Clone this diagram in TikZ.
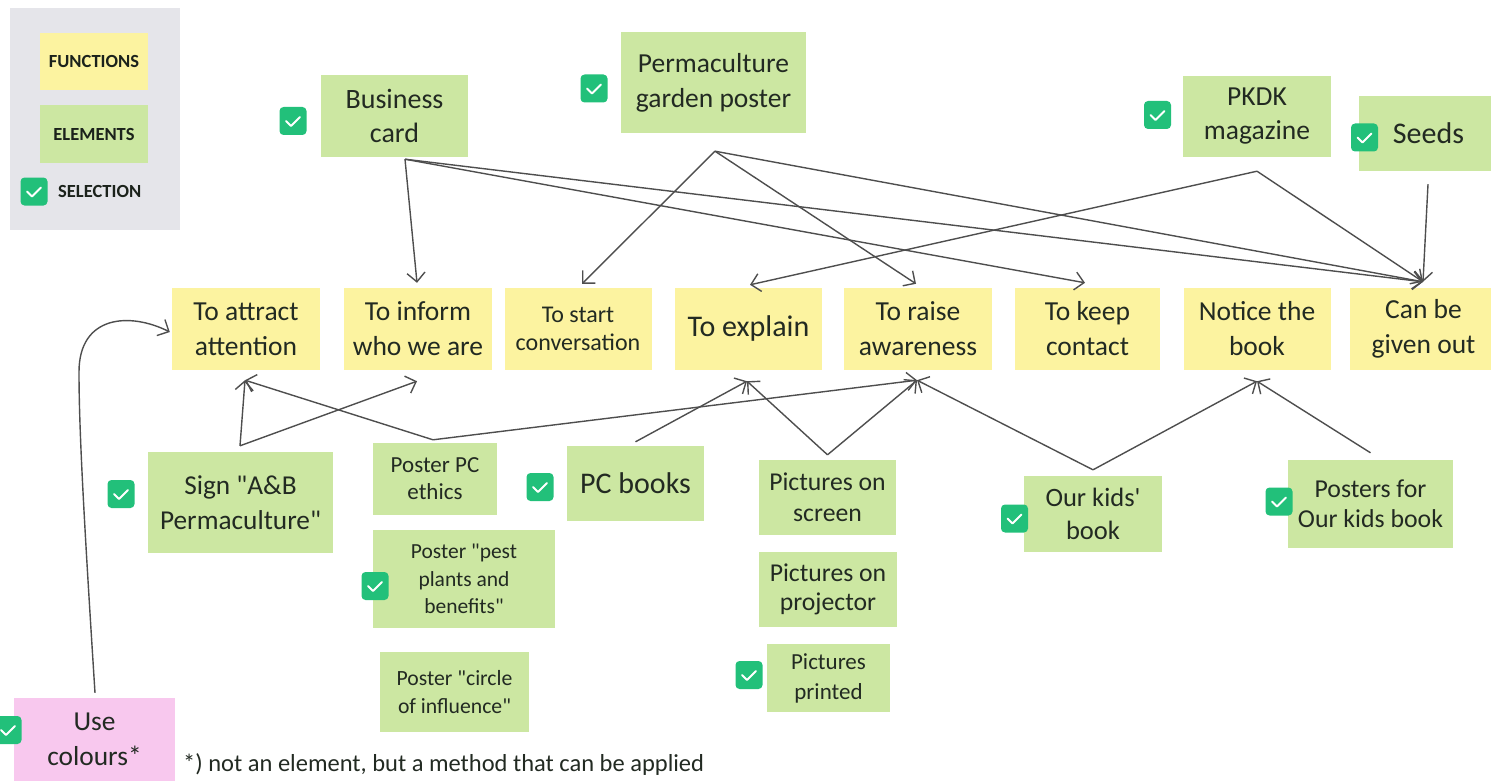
\documentclass[tikz,border=0pt]{standalone}
\usepackage{fontspec}
\setmainfont[Ligatures=TeXOff]{Carlito}
\usetikzlibrary{arrows.meta}
\definecolor{yel}{HTML}{FCF3A0}
\definecolor{grn}{HTML}{CCE7A2}
\definecolor{pnk}{HTML}{F8C8EE}
\definecolor{leg}{HTML}{E5E5EA}
\definecolor{chk}{HTML}{22C07A}
\definecolor{txt}{HTML}{222A22}
\definecolor{ln}{HTML}{4E4E4E}
\newcommand{\fsz}[2]{\fontsize{#1}{#2}\selectfont}
\begin{document}
\begin{tikzpicture}[x=1pt,y=-1pt,
  base/.style={inner sep=0pt, align=center, text=txt},
  fn/.style={base, fill=yel, minimum width=148pt, minimum height=82pt, font=\fsz{27.5}{35}},
  el/.style={base, fill=grn},
  lgtxt/.style={inner sep=0pt, text=txt!80!black, font=\bfseries\fsz{18.5}{21}},
  chkbox/.style={fill=chk, rounded corners=4pt, minimum width=27pt, minimum height=28pt, inner sep=0pt,
    path picture={\draw[white, line width=2pt, sharp corners, line cap=round, line join=round]
      ([xshift=-7pt]path picture bounding box.center) -- ++(5pt,-5pt) -- ++(9pt,9pt);}},
  arr/.style={draw=ln, line width=1.4pt, -{Straight Barb[length=9pt,width=18pt]}}
]
\useasboundingbox (0,0) rectangle (1491,781);

% legend
\node[fill=leg, minimum width=170pt, minimum height=222pt, inner sep=0pt] (legend) at (95,119) {};
\node[fill=yel, minimum width=108pt, minimum height=57pt, lgtxt] (lfun) at (94,61.5) {FUNCTIONS};
\node[fill=grn, minimum width=108pt, minimum height=58pt, lgtxt] (lel) at (94,134) {ELEMENTS};
\node[chkbox] (lchk) at (34,191.5) {};
\node[lgtxt, anchor=west] (lsel) at (58,191.5) {SELECTION};

% top elements
\node[el, minimum width=147pt, minimum height=82pt, font=\fsz{28}{34}] (bc) at (394.5,116) {Business\\card};
\node[chkbox] (bcchk) at (293,121) {};
\node[el, minimum width=185pt, minimum height=101pt, font=\fsz{27.5}{35}] (perm) at (713.5,82.5) {Permaculture\\garden poster};
\node[chkbox] (permchk) at (594,88.5) {};
\node[el, minimum width=148pt, minimum height=81pt, font=\fsz{27.5}{34}] (pkdk) at (1257,116.5) {PKDK\\magazine};
\node[chkbox] (pkdkchk) at (1157.5,115) {};
\node[el, minimum width=139pt, minimum height=75pt, font=\fsz{30}{35}] (seeds) at (1428.5,133.5) {Seeds};
\node[chkbox] (seedschk) at (1364.5,137.5) {};

% functions
\node[fn] (attract) at (246,329) {To attract\\attention};
\node[fn] (inform) at (418,329) {To inform\\who we are};
\node[fn, minimum width=147pt, font=\fsz{24}{28}] (start) at (578,329) {To start\\conversation};
\node[fn, minimum width=147pt, font=\fsz{30}{35}] (explain) at (748.5,329) {To explain};
\node[fn] (raise) at (918,329) {To raise\\awareness};
\node[fn, minimum width=145pt] (keep) at (1087.5,329) {To keep\\contact};
\node[fn, minimum width=147pt] (notice) at (1257,329) {Notice the\\book};
\node[fn, minimum width=147pt] (given) at (1423.5,329) {Can be\\given out};

% bottom elements
\node[el, minimum width=185pt, minimum height=101pt, font=\fsz{27.3}{35}] (sign) at (240.5,502.5) {Sign "A\&B\\Permaculture"};
\node[chkbox] (signchk) at (121,494) {};
\node[el, minimum width=124pt, minimum height=72pt, font=\fsz{23}{27}] (ethics) at (435,479) {Poster PC\\ethics};
\node[el, minimum width=182pt, minimum height=98pt, font=\fsz{21.5}{27.5}] (pest) at (464,579) {Poster "pest\\plants and\\benefits"};
\node[chkbox] (pestchk) at (375,586) {};
\node[el, minimum width=149pt, minimum height=80pt, font=\fsz{21.7}{28}] (circle) at (454.5,692) {Poster "circle\\of influence"};
\node[el, minimum width=137pt, minimum height=75pt, font=\fsz{30}{35}] (books) at (635.5,483.5) {PC books};
\node[chkbox] (bookschk) at (540,487) {};
\node[el, minimum width=137pt, minimum height=75pt, font=\fsz{25.7}{31}] (screen) at (827.5,497.5) {Pictures on\\screen};
\node[el, minimum width=138pt, minimum height=75pt, font=\fsz{25.7}{29}] (proj) at (828,589.5) {Pictures on\\projector};
\node[el, minimum width=123pt, minimum height=68pt, font=\fsz{23}{30}] (printed) at (828.5,678) {Pictures\\printed};
\node[chkbox] (printedchk) at (749,675) {};
\node[el, minimum width=138pt, minimum height=76pt, font=\fsz{26.5}{33}] (kids) at (1093,514) {Our kids'\\book};
\node[chkbox] (kidschk) at (1014.5,518.5) {};
\node[el, minimum width=165pt, minimum height=88pt, font=\fsz{25.8}{30}] (posters) at (1370.5,504) {Posters for\\Our kids book};
\node[chkbox] (posterschk) at (1279,501.5) {};
\node[base, fill=pnk, minimum width=161pt, minimum height=83pt, font=\fsz{27.4}{35}] (colours) at (94.5,739.5) {Use\\colours*};
\node[chkbox] (colourschk) at (8,730) {};
\node[base, anchor=west, font=\fsz{24.5}{28}] (note) at (183,765) {*) not an element, but a method that can be applied};

% connectors from top elements
\draw[arr] ([xshift=10.5pt,yshift=-2pt]bc.south) -- ([xshift=-1pt,yshift=5pt]inform.north);
\draw[arr] ([xshift=10.5pt,yshift=-2pt]bc.south) -- ([xshift=-2.5pt,yshift=5pt]keep.north);
\draw[arr] ([xshift=10.5pt,yshift=-2pt]bc.south) -- ([xshift=-0.5pt,yshift=6pt]given.north);
\draw[arr] ([xshift=1.5pt,yshift=-18pt]perm.south) -- ([xshift=4pt,yshift=4pt]start.north);
\draw[arr] ([xshift=1.5pt,yshift=-18pt]perm.south) -- ([xshift=-2pt,yshift=4pt]raise.north);
\draw[arr] ([xshift=1.5pt,yshift=-18pt]perm.south) -- ([xshift=-0.5pt,yshift=6pt]given.north);
\draw[arr] ([yshift=-14pt]pkdk.south) -- ([xshift=1.5pt,yshift=3pt]explain.north);
\draw[arr] ([yshift=-14pt]pkdk.south) -- ([xshift=-0.5pt,yshift=6pt]given.north);
\draw[arr] ([xshift=-0.5pt,yshift=-13pt]seeds.south) -- ([xshift=-0.5pt,yshift=6pt]given.north);

% connectors from bottom elements
\draw[arr] ([xshift=-0.5pt,yshift=6pt]sign.north) -- ([xshift=-1pt,yshift=-10pt]attract.south);
\draw[arr] ([xshift=-0.5pt,yshift=6pt]sign.north) -- ([xshift=-1pt,yshift=-11pt]inform.south);
\draw[arr] ([xshift=-2pt,yshift=3pt]ethics.north) -- ([xshift=-1pt,yshift=-10pt]attract.south);
\draw[arr] ([xshift=-2pt,yshift=3pt]ethics.north) -- ([xshift=-1pt,yshift=-10pt]raise.south);
\draw[arr] ([yshift=4pt]books.north) -- ([xshift=-1.5pt,yshift=-11pt]explain.south);
\draw[arr] ([yshift=5pt]screen.north) -- ([xshift=-1.5pt,yshift=-11pt]explain.south);
\draw[arr] ([yshift=5pt]screen.north) -- ([xshift=-1pt,yshift=-10pt]raise.south);
\draw[arr] ([yshift=6pt]kids.north) -- ([xshift=-1pt,yshift=-10pt]raise.south);
\draw[arr] ([yshift=6pt]kids.north) -- ([yshift=-11pt]notice.south);
\draw[arr] ([yshift=7pt]posters.north) -- ([yshift=-11pt]notice.south);

% curved connector from colours
\draw[arr] ([xshift=0.5pt,yshift=5pt]colours.north) .. controls (84,520) and (79,430) .. (79,372)
  .. controls (79,315) and (130,312) .. ([xshift=-2pt,yshift=-3pt]attract.west);
\end{tikzpicture}
\end{document}
